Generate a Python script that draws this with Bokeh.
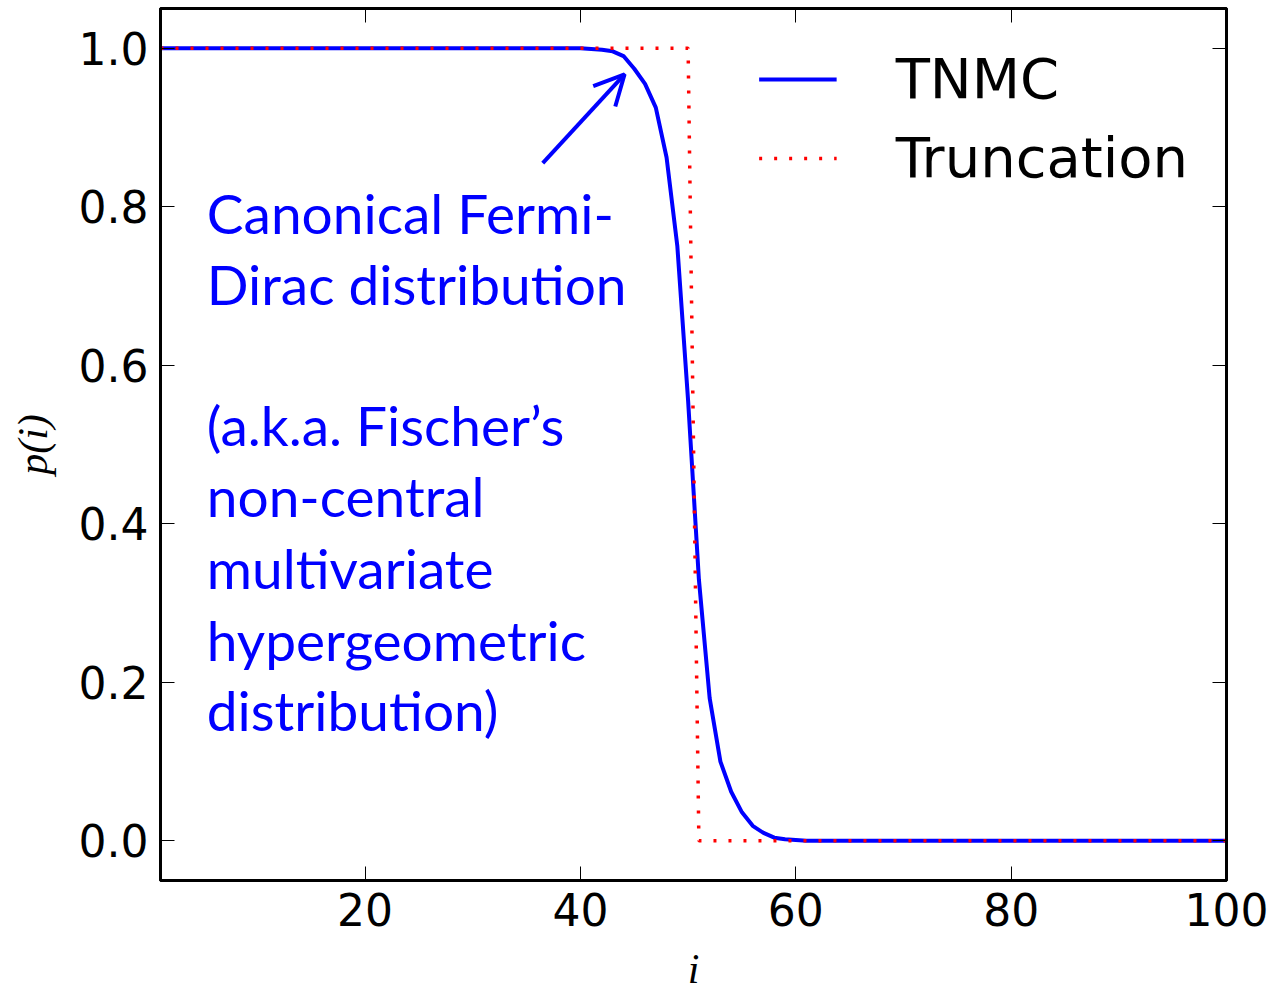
from bokeh.plotting import figure
from bokeh.models import (Range1d, FixedTicker, PrintfTickFormatter, LinearAxis,
                          Legend, LegendItem, Label, Arrow, OpenHead)
from bokeh.embed import file_html
from bokeh.resources import INLINE

# ---- data ----
i_values = list(range(1, 101))
tnmc = [
    1.0, 1.0, 1.0, 1.0, 1.0, 1.0, 1.0, 1.0, 1.0, 1.0,
    1.0, 1.0, 1.0, 1.0, 1.0, 1.0, 1.0, 1.0, 1.0, 1.0,
    1.0, 1.0, 1.0, 1.0, 1.0, 1.0, 1.0, 1.0, 1.0, 1.0,
    1.0, 1.0, 1.0, 1.0, 1.0, 1.0, 1.0, 1.0, 1.0, 1.0,
    0.999, 0.998, 0.996, 0.99, 0.974, 0.955, 0.925, 0.862, 0.75, 0.555,
    0.33, 0.18, 0.10, 0.062, 0.036, 0.019, 0.01, 0.004, 0.002, 0.001,
    0.0, 0.0, 0.0, 0.0, 0.0, 0.0, 0.0, 0.0, 0.0, 0.0,
    0.0, 0.0, 0.0, 0.0, 0.0, 0.0, 0.0, 0.0, 0.0, 0.0,
    0.0, 0.0, 0.0, 0.0, 0.0, 0.0, 0.0, 0.0, 0.0, 0.0,
    0.0, 0.0, 0.0, 0.0, 0.0, 0.0, 0.0, 0.0, 0.0, 0.0,
]
truncation = [1.0] * 50 + [0.0] * 50
x_ticks = [20, 40, 60, 80, 100]
y_ticks = [0.0, 0.2, 0.4, 0.6, 0.8, 1.0]

annotation_lines = [
    "Canonical Fermi-",
    "Dirac distribution",
    "(a.k.a. Fischer\u2019s",
    "non-central",
    "multivariate",
    "hypergeometric",
    "distribution)",
]
annotation_y = [0.792, 0.703, 0.524, 0.435, 0.344, 0.254, 0.165]
annotation_x = 5.3
arrow_start = (36.5, 0.855)
arrow_end = (44.1, 0.967)

# ---- figure ----
p = figure(width=1279, height=996, output_backend="svg", toolbar_location=None,
           x_range=Range1d(1, 100), y_range=Range1d(-0.05, 1.05),
           min_border_left=160, min_border_right=53, min_border_top=8,
           min_border_bottom=116, background_fill_color="white",
           border_fill_color="white")
p.grid.visible = False
p.outline_line_color = "black"
p.outline_line_width = 3
p.outline_line_alpha = 1.0

tick_font = "DejaVu Sans"
for ax in p.xaxis + p.yaxis:
    ax.major_tick_in = 14
    ax.major_tick_out = 0
    ax.minor_tick_line_color = None
    ax.major_tick_line_color = "black"
    ax.major_tick_line_width = 1
    ax.axis_line_width = 3
    ax.axis_line_color = "black"
    ax.major_label_text_font = tick_font
    ax.major_label_text_font_size = "44px"
    ax.major_label_text_color = "black"
    ax.major_label_standoff = 12
    ax.axis_label_text_font = "Liberation Serif"
    ax.axis_label_text_font_style = "italic"
    ax.axis_label_text_font_size = "42px"
    ax.axis_label_text_color = "black"

p.xaxis.ticker = FixedTicker(ticks=x_ticks)
p.yaxis.ticker = FixedTicker(ticks=y_ticks)
p.yaxis.formatter = PrintfTickFormatter(format="%.1f")
p.xaxis.axis_label = "i"
p.yaxis.axis_label = "p(i)"
p.xaxis.axis_label_standoff = 17
p.yaxis.axis_label_standoff = 20

# mirror ticks on top and right (no labels)
top_ax = LinearAxis(ticker=FixedTicker(ticks=x_ticks), major_tick_in=14, major_tick_out=0,
                    minor_tick_line_color=None,
                    major_label_overrides={t: "" for t in x_ticks},
                    major_label_standoff=0, axis_line_width=3, major_tick_line_color="black")
right_ax = LinearAxis(ticker=FixedTicker(ticks=y_ticks), major_tick_in=14, major_tick_out=0,
                      minor_tick_line_color=None,
                      major_label_overrides={t: "" for t in y_ticks},
                      major_label_standoff=0, axis_line_width=3, major_tick_line_color="black")
p.add_layout(top_ax, "above")
p.add_layout(right_ax, "right")

# ---- lines ----
r_tnmc = p.line(i_values, tnmc, line_color="#0000ff", line_width=4)
r_trunc = p.line(i_values, truncation, line_color="#ff0000", line_width=3.5,
                 line_dash="3 12")

legend = Legend(items=[LegendItem(label="TNMC", renderers=[r_tnmc]),
                       LegendItem(label="Truncation", renderers=[r_trunc])],
                location="top_right", border_line_color=None,
                background_fill_alpha=0.0, label_text_font=tick_font,
                label_text_font_size="56px", label_text_color="black",
                glyph_width=78, glyph_height=60, label_height=60,
                label_standoff=59, spacing=14, padding=0, margin=38)
p.add_layout(legend)

# ---- annotation ----
for txt, yy in zip(annotation_lines, annotation_y):
    p.add_layout(Label(x=annotation_x, y=yy, text=txt, text_color="#0000ff",
                       text_font="Lato", text_font_size="55px",
                       text_baseline="alphabetic", text_align="left"))

p.add_layout(Arrow(end=OpenHead(size=30, line_color="#0000ff", line_width=4),
                   x_start=arrow_start[0], y_start=arrow_start[1],
                   x_end=arrow_end[0], y_end=arrow_end[1],
                   line_color="#0000ff", line_width=4))

open("out.html", "w").write(file_html(p, INLINE))
